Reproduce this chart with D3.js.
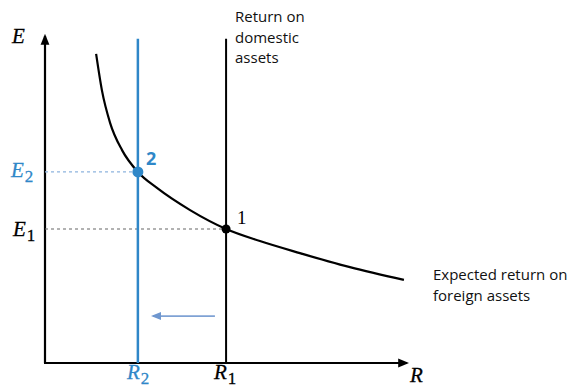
<!DOCTYPE html>
<html>
<head>
<meta charset="utf-8">
<script src="https://cdn.jsdelivr.net/npm/d3@7"></script>
<style>
  body { margin: 0; background: #fff; }
  svg { display: block; }
</style>
</head>
<body>
<div id="chart"></div>
<script>
//// data (arbitrary units: R on x, E on y)
var foreignCurve = [
  [1.42, 9.48], [1.58, 8.37], [1.81, 7.36], [2.14, 6.53], [2.58, 5.86],
  [3.11, 5.37], [4.03, 4.69], [5.03, 4.11], [5.97, 3.74], [7.08, 3.37],
  [8.47, 2.94], [9.97, 2.55]
];
var R1 = 5.03, E1 = 4.11;   // point 1
var R2 = 2.58, E2 = 5.86;   // point 2
var shiftArrow = [[4.72, 1.44], [3.0, 1.44]];
var lineTop = 9.95;

var blue = "#2f87c8";

//// chart
var margin = {top: 37, right: 176, bottom: 29, left: 45},
  width = 581, height = 392;

var svg = d3.select("#chart")
  .append("svg")
    .attr("width", width)
    .attr("height", height);

var xScale = d3.scaleLinear()
  .domain([0, 10])
  .range([margin.left, width - margin.right]);

var yScale = d3.scaleLinear()
  .domain([0, 10])
  .range([height - margin.bottom, margin.top]);

var defs = svg.append("defs");
function marker(id, color, size) {
  defs.append("marker")
    .attr("id", id)
    .attr("viewBox", "0 0 10 10")
    .attr("refX", 8).attr("refY", 5)
    .attr("markerWidth", size).attr("markerHeight", size)
    .attr("markerUnits", "userSpaceOnUse")
    .attr("orient", "auto")
  .append("path")
    .attr("d", "M0,1 L10,5 L0,9 Z")
    .attr("fill", color);
}
marker("arrBlack", "#000", 11);
marker("arrBlue", "#6f97cf", 10);

//// axes with arrowheads
svg.append("line")
  .attr("x1", xScale(0)).attr("y1", yScale(0))
  .attr("x2", xScale(0)).attr("y2", yScale(10) - 1)
  .attr("stroke", "#000").attr("stroke-width", 2.2)
  .attr("marker-end", "url(#arrBlack)");

svg.append("line")
  .attr("x1", xScale(0) - 1).attr("y1", yScale(0))
  .attr("x2", xScale(10) + 2).attr("y2", yScale(0))
  .attr("stroke", "#000").attr("stroke-width", 2.2)
  .attr("marker-end", "url(#arrBlack)");

//// dashed guides
svg.append("line")
  .attr("x1", xScale(0)).attr("x2", xScale(R2))
  .attr("y1", yScale(E2)).attr("y2", yScale(E2))
  .attr("stroke", "#8db4de").attr("stroke-width", 1.2)
  .attr("stroke-dasharray", "3,3");

svg.append("line")
  .attr("x1", xScale(0)).attr("x2", xScale(R1))
  .attr("y1", yScale(E1)).attr("y2", yScale(E1))
  .attr("stroke", "#666").attr("stroke-width", 1.2)
  .attr("stroke-dasharray", "3,3");

//// vertical return lines
svg.append("line")
  .attr("x1", xScale(R1)).attr("x2", xScale(R1))
  .attr("y1", yScale(0)).attr("y2", yScale(lineTop))
  .attr("stroke", "#000").attr("stroke-width", 2);

svg.append("line")
  .attr("x1", xScale(R2)).attr("x2", xScale(R2))
  .attr("y1", yScale(0)).attr("y2", yScale(lineTop))
  .attr("stroke", blue).attr("stroke-width", 2.5);

//// expected return on foreign assets
var line = d3.line()
  .x(d => xScale(d[0]))
  .y(d => yScale(d[1]))
  .curve(d3.curveMonotoneX);

svg.append("path")
  .datum(foreignCurve)
  .attr("d", line)
  .attr("fill", "none")
  .attr("stroke", "#000")
  .attr("stroke-width", 2.2);

//// shift arrow
svg.append("line")
  .attr("x1", xScale(shiftArrow[0][0])).attr("y1", yScale(shiftArrow[0][1]))
  .attr("x2", xScale(shiftArrow[1][0])).attr("y2", yScale(shiftArrow[1][1]))
  .attr("stroke", "#7fa2d4").attr("stroke-width", 1.8)
  .attr("marker-end", "url(#arrBlue)");

//// dots
svg.append("circle")
  .attr("cx", xScale(R2)).attr("cy", yScale(E2)).attr("r", 5.5)
  .attr("fill", blue);
svg.append("circle")
  .attr("cx", xScale(R1)).attr("cy", yScale(E1)).attr("r", 4.5)
  .attr("fill", "#000");

//// labels
var serif = "'Liberation Serif', 'DejaVu Serif', serif";
var sans = "'Open Sans', 'Noto Sans', sans-serif";

function mathLabel(x, y, main, sub, color) {
  var t = svg.append("text")
    .attr("x", x).attr("y", y)
    .attr("font-family", serif)
    .attr("font-style", "italic")
    .attr("font-size", 21)
    .attr("stroke", color).attr("stroke-width", 0.3)
    .attr("fill", color);
  t.append("tspan").text(main);
  if (sub) {
    t.append("tspan")
      .attr("dy", 5)
      .attr("dx", 1)
      .attr("font-size", 17)
      .attr("font-style", "normal")
      .text(sub);
  }
  return t;
}

mathLabel(12, 43, "E", null, "#000");
mathLabel(11, 177, "E", "2", blue);
mathLabel(13, 236, "E", "1", "#000");
mathLabel(127, 379, "R", "2", blue);
mathLabel(214, 379, "R", "1", "#000");
mathLabel(410, 382, "R", null, "#000");

svg.append("text")
  .attr("x", xScale(R2) + 8).attr("y", yScale(E2) - 7)
  .attr("font-family", sans).attr("font-weight", "bold")
  .attr("font-size", 18).attr("fill", blue)
  .text("2");

svg.append("text")
  .attr("x", xScale(R1) + 11).attr("y", yScale(E1) - 5)
  .attr("font-family", serif)
  .attr("font-size", 19).attr("fill", "#000")
  .text("1");

var domestic = ["Return on", "domestic", "assets"];
svg.append("g").selectAll("text")
  .data(domestic)
  .enter().append("text")
    .attr("x", 235)
    .attr("y", (d, i) => 22 + i * 20.5)
    .attr("font-family", sans)
    .attr("font-size", 15)
    .attr("fill", "#111")
    .text(d => d);

var foreign = ["Expected return on", "foreign assets"];
svg.append("g").selectAll("text")
  .data(foreign)
  .enter().append("text")
    .attr("x", 433)
    .attr("y", (d, i) => 280 + i * 20.5)
    .attr("font-family", sans)
    .attr("font-size", 15)
    .attr("fill", "#111")
    .text(d => d);
</script>
</body>
</html>
